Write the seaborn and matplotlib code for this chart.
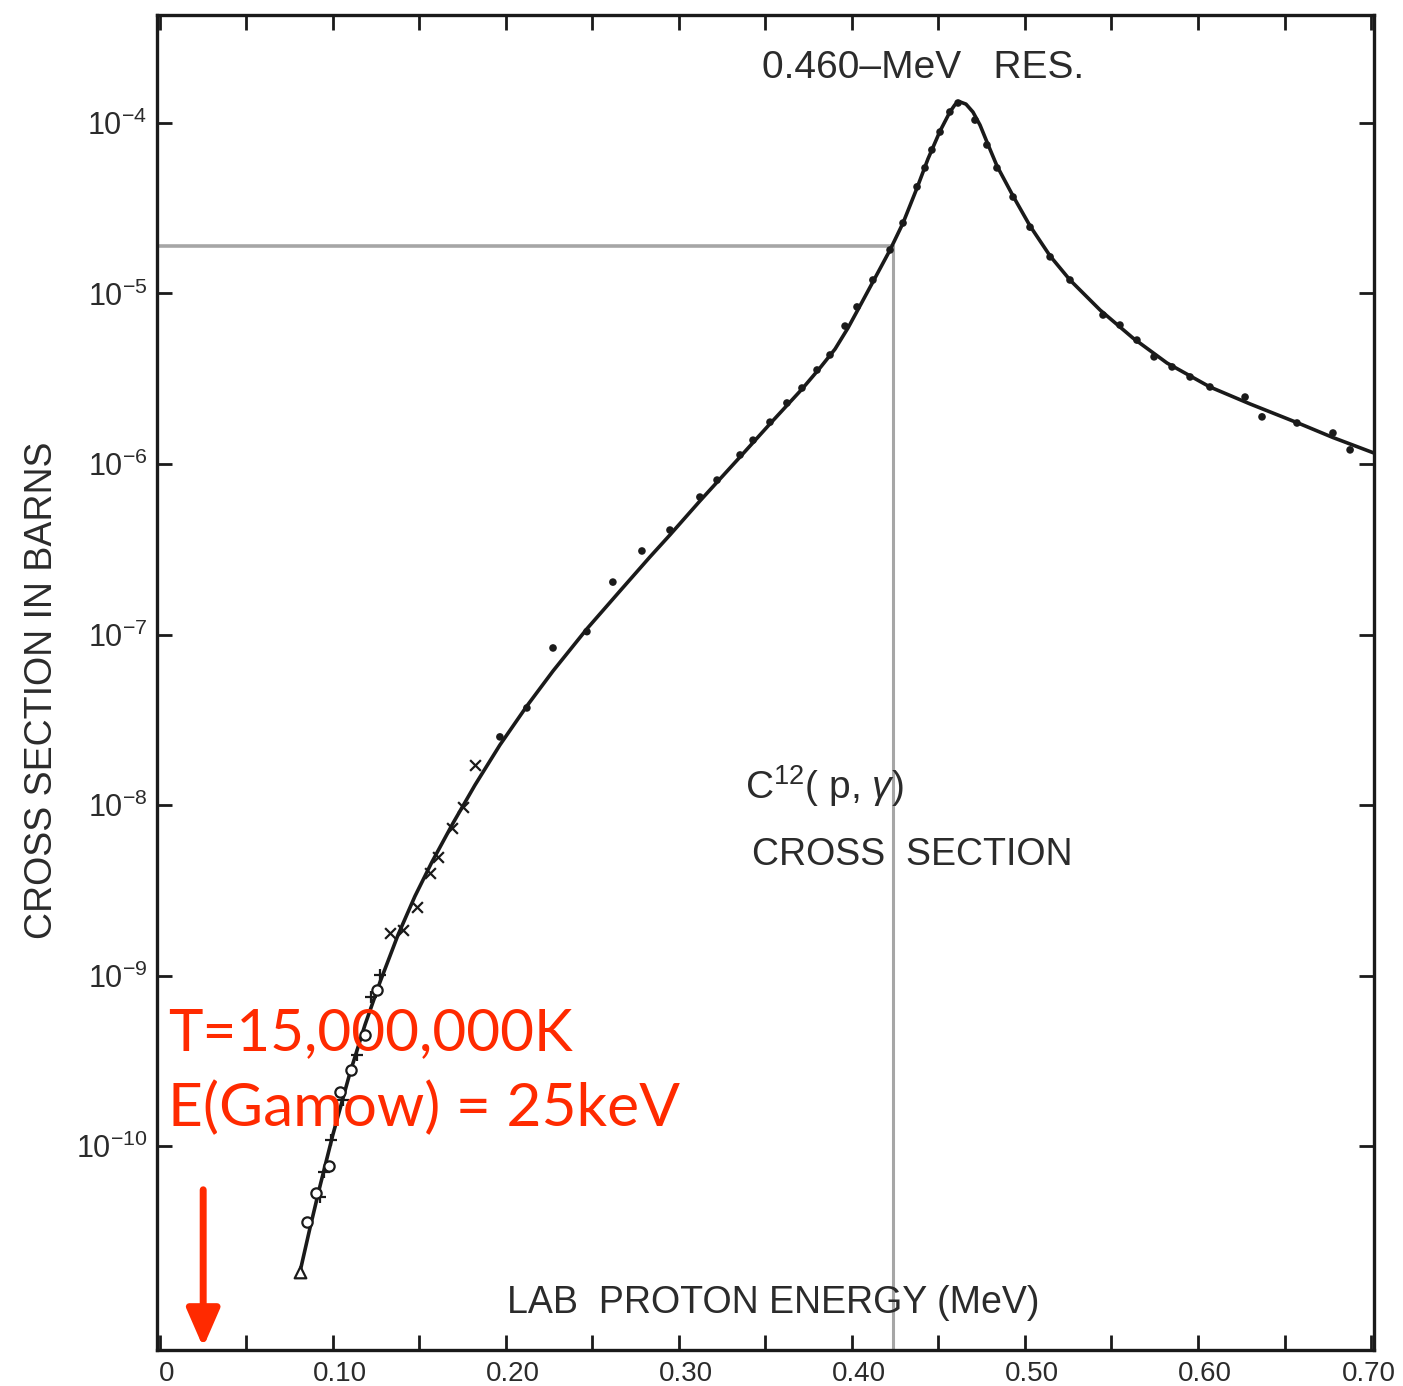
import matplotlib
matplotlib.use("Agg")
import matplotlib.pyplot as plt
import matplotlib.transforms as mtransforms
import seaborn as sns

# ---------------- data ----------------
curve_energy = [0.0809, 0.0867, 0.0925, 0.1000, 0.1098, 0.1185, 0.1272, 0.1376,
                0.1474, 0.1572, 0.1694, 0.1821, 0.1965, 0.2121, 0.2272, 0.2468,
                0.2659, 0.2832, 0.2948, 0.3121, 0.3353, 0.3526, 0.3711, 0.3815,
                0.3902, 0.3977, 0.4046, 0.4121, 0.4220, 0.4295, 0.4376, 0.4439,
                0.4509, 0.4566, 0.4595, 0.4624, 0.4659, 0.4699, 0.4740, 0.4780,
                0.4838, 0.4931, 0.5029, 0.5145, 0.5260, 0.5434, 0.5624, 0.5821,
                0.6069, 0.6301, 0.6590, 0.6780, 0.7017]
curve_sigma = [1.82e-11, 3.30e-11, 5.82e-11, 1.17e-10, 2.68e-10, 5.13e-10, 9.16e-10, 1.73e-9,
               2.92e-9, 4.63e-9, 7.83e-9, 1.31e-8, 2.25e-8, 3.81e-8, 6.11e-8, 1.08e-7,
               1.80e-7, 2.85e-7, 3.84e-7, 6.07e-7, 1.10e-6, 1.72e-6, 2.75e-6, 3.66e-6,
               4.72e-6, 6.28e-6, 8.45e-6, 1.17e-5, 1.80e-5, 2.59e-5, 4.16e-5, 6.15e-5,
               8.97e-5, 1.16e-4, 1.28e-4, 1.33e-4, 1.29e-4, 1.16e-4, 9.73e-5, 7.74e-5,
               5.60e-5, 3.73e-5, 2.49e-5, 1.66e-5, 1.20e-5, 8.00e-6, 5.48e-6, 3.91e-6,
               2.83e-6, 2.25e-6, 1.72e-6, 1.43e-6, 1.16e-6]

dot_energy = [0.1965, 0.2121, 0.2272, 0.2468, 0.2618, 0.2786, 0.2948, 0.3121, 0.3220,
              0.3353, 0.3428, 0.3526, 0.3624, 0.3711, 0.3798, 0.3873, 0.3960, 0.4029,
              0.4121, 0.4220, 0.4295, 0.4376, 0.4422, 0.4462, 0.4509, 0.4566, 0.4613,
              0.4711, 0.4780, 0.4838, 0.4931, 0.5029, 0.5145, 0.5260, 0.5451, 0.5549,
              0.5647, 0.5746, 0.5850, 0.5954, 0.6069, 0.6272, 0.6370, 0.6572, 0.6780,
              0.6879]
dot_sigma = [2.51e-8, 3.71e-8, 8.34e-8, 1.04e-7, 2.03e-7, 3.09e-7, 4.10e-7, 6.40e-7, 8.05e-7,
             1.13e-6, 1.38e-6, 1.76e-6, 2.28e-6, 2.79e-6, 3.56e-6, 4.36e-6, 6.44e-6, 8.34e-6,
             1.20e-5, 1.80e-5, 2.59e-5, 4.22e-5, 5.45e-5, 6.95e-5, 8.85e-5, 1.16e-4, 1.31e-4,
             1.04e-4, 7.43e-5, 5.45e-5, 3.68e-5, 2.45e-5, 1.64e-5, 1.20e-5, 7.48e-6, 6.53e-6,
             5.33e-6, 4.25e-6, 3.71e-6, 3.24e-6, 2.83e-6, 2.47e-6, 1.89e-6, 1.74e-6, 1.52e-6,
             1.21e-6]

cross_energy = [0.1329, 0.1405, 0.1486, 0.1561, 0.1607, 0.1688, 0.1751, 0.1821]
cross_sigma = [1.77e-9, 1.85e-9, 2.52e-9, 3.99e-9, 4.95e-9, 7.33e-9, 9.73e-9, 1.72e-8]

circle_energy = [0.0850, 0.0902, 0.0977, 0.1040, 0.1104, 0.1185, 0.1254]
circle_sigma = [3.58e-11, 5.30e-11, 7.64e-11, 2.07e-10, 2.79e-10, 4.48e-10, 8.22e-10]

plus_energy = [0.0925, 0.0948, 0.0988, 0.1058, 0.1139, 0.1220, 0.1272]
plus_sigma = [5.02e-11, 7.05e-11, 1.08e-10, 1.86e-10, 3.42e-10, 7.48e-10, 1.01e-9]

triangle_energy = [0.0809]
triangle_sigma = [1.82e-11]

x_ticks = [0.0, 0.10, 0.20, 0.30, 0.40, 0.50, 0.60, 0.70]
x_tick_labels = ["0", "0.10", "0.20", "0.30", "0.40", "0.50", "0.60", "0.70"]
x_minor_ticks = [0.05, 0.15, 0.25, 0.35, 0.45, 0.55, 0.65]
y_ticks = [1e-4, 1e-5, 1e-6, 1e-7, 1e-8, 1e-9, 1e-10]
y_tick_labels = [r"$10^{-4}$", r"$10^{-5}$", r"$10^{-6}$", r"$10^{-7}$",
                 r"$10^{-8}$", r"$10^{-9}$", r"$10^{-10}$"]

guide_energy = 0.4237
guide_sigma = 1.90e-5
gamow_energy = 0.025

# ---------------- style ----------------
sns.set_style("ticks")
plt.rcParams["font.family"] = ["Liberation Sans", "DejaVu Sans"]
plt.rcParams["mathtext.fontset"] = "custom"
plt.rcParams["mathtext.rm"] = "Liberation Sans"
plt.rcParams["mathtext.it"] = "Liberation Sans:italic"

ink = "#1a1a1a"
txt = "#2b2b2b"
red = "#ff2a00"
gray = "#a6a6a6"

fig = plt.figure(figsize=(14.03, 13.86), dpi=100)
ax = fig.add_axes([0.1119, 0.0260, 0.8674, 0.9632])
ax.set_yscale("log")

# guide lines
ax.plot([-0.01, guide_energy], [guide_sigma, guide_sigma], color=gray, lw=2.6, zorder=1)
ax.plot([guide_energy, guide_energy], [1e-13, guide_sigma], color=gray, lw=2.2, zorder=1)

sns.lineplot(x=curve_energy, y=curve_sigma, ax=ax, color=ink, lw=2.6,
             sort=False, estimator=None, zorder=3)
sns.scatterplot(x=dot_energy, y=dot_sigma, ax=ax, marker="o", s=30, color=ink,
                edgecolor="none", zorder=4)
sns.scatterplot(x=cross_energy, y=cross_sigma, ax=ax, marker="x", s=60, color=ink,
                linewidth=1.6, zorder=4)
sns.scatterplot(x=plus_energy, y=plus_sigma, ax=ax, marker="+", s=80, color=ink,
                linewidth=1.6, zorder=4)
sns.scatterplot(x=circle_energy, y=circle_sigma, ax=ax, marker="o", s=55,
                facecolor="white", edgecolor=ink, linewidth=1.6, zorder=4)
sns.scatterplot(x=triangle_energy, y=triangle_sigma, ax=ax, marker="^", s=70,
                facecolor="white", edgecolor=ink, linewidth=1.6, zorder=4)

ax.set_xlim(-0.0017, 0.7017)
ax.set_ylim(6.37e-12, 4.30e-4)

ax.set_xticks(x_ticks)
ax.set_xticklabels(x_tick_labels)
ax.set_xticks(x_minor_ticks, minor=True)
ax.set_yticks(y_ticks)
ax.set_yticklabels(y_tick_labels)
ax.yaxis.set_minor_locator(matplotlib.ticker.NullLocator())

for sp in ax.spines.values():
    sp.set_visible(True)
    sp.set_linewidth(2.4)
    sp.set_color(ink)

ax.tick_params(axis="both", which="both", direction="in", top=True, right=True,
               length=11, width=2.0, color=ink)
ax.tick_params(axis="x", which="major", labelsize=20, pad=8, labelcolor=txt)
ax.tick_params(axis="y", which="major", labelsize=22, pad=7, labelcolor=txt)
ax.set_xlabel("")
ax.set_ylabel("")

# the old plot's tick labels sit a little right of their ticks
xlabels = ax.get_xticklabels()
for lab in xlabels[:-1]:
    lab.set_transform(lab.get_transform()
                      + mtransforms.ScaledTranslation(0.07, 0, fig.dpi_scale_trans))
xlabels[-1].set_transform(xlabels[-1].get_transform()
                          + mtransforms.ScaledTranslation(-0.02, 0, fig.dpi_scale_trans))

# annotations (axes-fraction positions)
ax.text(0.497, 0.960, "0.460\u2013MeV   RES.", transform=ax.transAxes, fontsize=28,
        color=txt, ha="left", va="center")
ax.text(0.483, 0.4225, r"C$^{12}$( p, $\gamma$)", transform=ax.transAxes, fontsize=28,
        color=txt, ha="left", va="center")
ax.text(0.489, 0.371, "CROSS  SECTION", transform=ax.transAxes, fontsize=27,
        color=txt, ha="left", va="center")
ax.text(0.288, 0.0352, "LAB  PROTON ENERGY (MeV)", transform=ax.transAxes, fontsize=27,
        color=txt, ha="left", va="center")
fig.text(0.030, 0.502, "CROSS SECTION IN BARNS", rotation=90, fontsize=27,
         color=txt, ha="center", va="center")

ax.text(0.009, 0.237, "T=15,000,000K", transform=ax.transAxes, fontsize=42,
        color=red, ha="left", va="center", family=["Lato", "DejaVu Sans"], zorder=6)
ax.text(0.009, 0.181, "E(Gamow) = 25keV", transform=ax.transAxes, fontsize=43.5,
        color=red, ha="left", va="center", family=["Lato", "DejaVu Sans"], zorder=6)

ax.annotate("", xy=(gamow_energy, 0.002), xycoords=("data", "axes fraction"),
            xytext=(gamow_energy, 0.12), textcoords=("data", "axes fraction"),
            arrowprops=dict(arrowstyle="-|>,head_length=2.3,head_width=1.0",
                            color=red, lw=5, shrinkA=0, shrinkB=0), zorder=6)

fig.savefig("out.png", dpi=100)
